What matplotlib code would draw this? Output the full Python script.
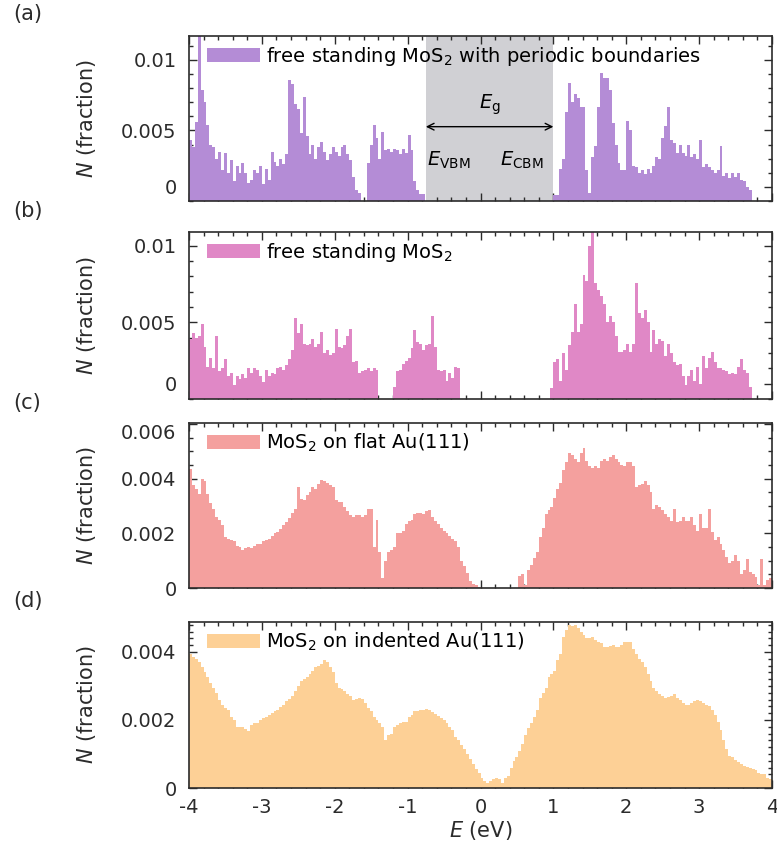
import numpy as np
import matplotlib
matplotlib.use("Agg")
import matplotlib.pyplot as plt
from matplotlib.patches import Patch
from matplotlib.ticker import MultipleLocator
from matplotlib.transforms import ScaledTranslation

plt.rcParams["font.family"] = "DejaVu Sans"
plt.rcParams["mathtext.fontset"] = "dejavusans"

W, H = 777, 848
INK = "#2b2b2b"

# histogram bins: 0.04 eV wide, -4 to 4 eV
E_EDGES = np.linspace(-4.0, 4.0, 201)

# fraction of states per bin, in units of 1e-3
N_PERIODIC = [
    4.3, 3.8, 5.6, 12.5, 7.9, 7.0, 5.4, 4.0, 3.8, 3.0,
    3.5, 2.2, 3.4, 2.0, 2.9, 1.4, 2.5, 2.0, 2.7, 2.0,
    1.3, 1.5, 2.2, 2.0, 2.5, 1.2, 2.3, 1.5, 3.5, 2.8,
    2.5, 3.0, 2.6, 3.3, 8.6, 8.3, 6.9, 6.5, 4.8, 7.4,
    4.6, 3.3, 4.0, 3.0, 3.8, 4.2, 3.5, 2.9, 3.3, 3.8,
    3.5, 3.2, 3.8, 4.0, 3.3, 2.9, 1.7, 0.8, 0.6, 0.0,
    0.0, 2.7, 4.0, 5.4, 4.5, 3.0, 4.9, 3.6, 3.7, 3.5,
    3.7, 3.6, 3.3, 3.7, 3.4, 4.7, 3.6, 1.4, 0.8, 0.5,
    0.5, 0, 0, 0, 0, 0, 0, 0, 0, 0,
    0, 0, 0, 0, 0, 0, 0, 0, 0, 0,
    0, 0, 0, 0, 0, 0, 0, 0, 0, 0,
    0, 0, 0, 0, 0, 0, 0, 0, 0, 0,
    0, 0, 0, 0, 0, 0.4, 0.4, 2.3, 3.0, 6.3,
    8.4, 7.0, 7.6, 7.3, 6.7, 6.7, 2.2, 0.6, 3.1, 3.9,
    6.7, 9.1, 8.7, 8.7, 7.9, 5.5, 4.0, 2.7, 2.2, 2.2,
    5.7, 5.0, 2.5, 2.4, 2.0, 2.2, 1.9, 2.3, 2.0, 2.5,
    3.1, 3.0, 4.5, 5.3, 6.7, 4.3, 4.1, 3.4, 4.0, 3.4,
    3.2, 4.0, 3.1, 3.3, 3.0, 4.3, 2.4, 2.6, 2.4, 2.2,
    2.0, 2.2, 3.9, 1.8, 2.0, 1.6, 2.0, 1.7, 2.0, 1.5,
    1.4, 1.0, 0.8, 0, 0, 0, 0, 0, 0, 0,
]
N_FREE = [
    3.9, 4.3, 4.0, 4.1, 4.9, 3.4, 2.1, 2.7, 2.0, 4.1,
    1.8, 2.0, 2.6, 1.5, 1.7, 0.9, 1.5, 1.3, 1.6, 1.4,
    2.0, 1.7, 2.0, 1.9, 1.5, 1.1, 1.9, 1.5, 1.7, 1.6,
    2.0, 2.1, 1.9, 2.2, 2.6, 3.2, 5.3, 4.3, 4.9, 3.6,
    3.5, 3.6, 3.9, 3.4, 3.6, 4.4, 3.0, 3.2, 2.9, 3.0,
    4.6, 3.4, 3.3, 3.5, 4.1, 4.6, 2.4, 2.5, 1.7, 1.8,
    1.9, 2.0, 1.8, 2.0, 1.9, 0, 0, 0, 0, 0,
    0.8, 1.8, 1.9, 2.3, 2.5, 2.7, 3.3, 4.5, 3.7, 3.6,
    3.2, 3.5, 3.6, 5.4, 3.4, 1.9, 1.8, 1.9, 1.2, 1.7,
    1.4, 2.1, 2.0, 0, 0, 0, 0, 0, 0, 0,
    0, 0, 0, 0, 0, 0, 0, 0, 0, 0,
    0, 0, 0, 0, 0, 0, 0, 0, 0, 0,
    0, 0, 0, 0, 0.7, 2.4, 2.6, 1.2, 3.0, 1.9,
    3.5, 4.4, 6.2, 4.4, 4.9, 8.1, 7.7, 10.0, 10.9, 7.6,
    7.1, 6.7, 6.2, 5.0, 5.4, 5.0, 4.1, 3.1, 3.1, 3.2,
    3.6, 3.1, 3.6, 7.6, 5.6, 5.3, 5.8, 5.0, 3.1, 4.5,
    3.6, 3.9, 3.8, 2.8, 3.6, 3.0, 2.4, 2.2, 2.3, 1.5,
    0.9, 1.5, 1.9, 1.2, 2.1, 1.0, 2.8, 2.0, 2.7, 3.1,
    2.4, 2.0, 2.0, 1.9, 1.8, 1.6, 1.7, 1.6, 2.1, 2.6,
    1.9, 1.7, 0.8, 0, 0, 0, 0, 0, 0, 0,
]
N_FLAT_AU = [
    4.35, 3.75, 3.6, 3.45, 4.0, 3.9, 3.45, 3.1, 2.9, 2.6,
    2.5, 2.3, 1.85, 1.8, 1.75, 1.7, 1.55, 1.5, 1.4, 1.45,
    1.5, 1.45, 1.55, 1.6, 1.6, 1.7, 1.75, 1.8, 1.9, 2.0,
    2.05, 2.15, 2.3, 2.4, 2.55, 2.75, 2.9, 3.7, 3.25, 3.2,
    3.4, 3.5, 3.7, 3.6, 3.8, 3.95, 3.9, 3.85, 3.75, 3.7,
    3.2, 3.15, 3.15, 2.95, 2.8, 2.65, 2.6, 2.65, 2.65, 2.6,
    2.65, 2.9, 2.9, 1.5, 2.5, 1.3, 0.35, 1.0, 1.3, 1.4,
    1.5, 2.0, 2.0, 2.1, 2.35, 2.45, 2.5, 2.7, 2.75, 2.75,
    2.7, 2.8, 2.85, 2.6, 2.45, 2.35, 2.2, 2.1, 2.0, 1.9,
    1.8, 1.7, 1.5, 1.0, 0.8, 0.55, 0.25, 0.15, 0.1, 0.05,
    0, 0, 0, 0, 0, 0, 0, 0, 0, 0,
    0, 0, 0, 0.45, 0.5, 0.1, 0.65, 0.85, 1.1, 1.3,
    1.85, 2.2, 2.7, 2.85, 2.95, 3.3, 3.6, 3.85, 4.3, 4.6,
    4.95, 4.85, 4.7, 4.6, 4.95, 5.1, 4.65, 4.45, 4.4, 4.45,
    4.4, 4.65, 4.7, 4.65, 4.8, 4.85, 4.7, 4.6, 4.5, 4.45,
    4.6, 4.6, 4.45, 3.7, 3.75, 3.8, 3.9, 3.75, 3.5, 2.9,
    3.05, 2.95, 2.85, 2.7, 2.6, 2.45, 2.9, 2.4, 2.45, 2.6,
    2.45, 2.45, 2.6, 2.3, 2.1, 2.7, 2.2, 2.2, 2.9, 2.05,
    1.75, 1.85, 1.6, 1.4, 1.15, 0.9, 1.0, 1.2, 1.0, 0.5,
    0.65, 1.05, 0.6, 0.5, 0.4, 0.1, 1.05, 0.1, 0.3, 0.35,
]
N_INDENTED_AU = [
    3.95, 3.85, 3.8, 3.7, 3.55, 3.4, 3.25, 3.1, 2.95, 2.8,
    2.6, 2.45, 2.35, 2.3, 2.1, 2.0, 1.8, 1.78, 1.78, 1.72,
    1.68, 1.85, 1.9, 1.92, 2.0, 2.05, 2.1, 2.15, 2.2, 2.25,
    2.3, 2.38, 2.45, 2.55, 2.62, 2.7, 2.85, 3.0, 3.15, 3.2,
    3.25, 3.35, 3.45, 3.55, 3.6, 3.65, 3.75, 3.7, 3.55, 3.4,
    3.1, 2.95, 2.9, 2.85, 2.75, 2.7, 2.6, 2.62, 2.65, 2.62,
    2.5, 2.35, 2.25, 2.1, 2.0, 1.9, 1.8, 1.4, 1.55, 1.6,
    1.8, 1.85, 1.9, 1.95, 1.95, 2.1, 2.15, 2.25, 2.25, 2.3,
    2.3, 2.33, 2.3, 2.22, 2.18, 2.12, 2.05, 2.0, 1.92, 1.8,
    1.7, 1.5, 1.4, 1.25, 1.15, 1.0, 0.85, 0.7, 0.55, 0.45,
    0.3, 0.2, 0.15, 0.2, 0.25, 0.3, 0.25, 0.15, 0.3, 0.35,
    0.6, 0.8, 0.9, 1.1, 1.3, 1.55, 1.75, 1.9, 2.1, 2.3,
    2.65, 2.8, 2.95, 3.25, 3.35, 3.45, 3.75, 3.95, 4.45, 4.65,
    4.8, 4.75, 4.78, 4.7, 4.6, 4.5, 4.4, 4.4, 4.45, 4.35,
    4.3, 4.25, 4.15, 4.15, 4.18, 4.2, 4.15, 4.15, 4.2, 4.3,
    4.3, 4.28, 4.1, 3.95, 3.8, 3.7, 3.55, 3.35, 3.15, 2.95,
    2.85, 2.75, 2.7, 2.65, 2.68, 2.7, 2.75, 2.65, 2.6, 2.5,
    2.45, 2.45, 2.5, 2.55, 2.6, 2.55, 2.5, 2.45, 2.4, 2.3,
    2.15, 1.95, 1.7, 1.4, 1.15, 0.95, 0.9, 0.82, 0.75, 0.72,
    0.65, 0.62, 0.6, 0.55, 0.52, 0.45, 0.42, 0.4, 0.3, 0.25,
]

LABELS = ["free standing MoS$_2$ with periodic boundaries",
          "free standing MoS$_2$",
          "MoS$_2$ on flat Au(111)",
          "MoS$_2$ on indented Au(111)"]
COLOURS = ["#b48cd6", "#e088c6", "#f4a09e", "#fdd096"]
LETTERS = ["(a)", "(b)", "(c)", "(d)"]

E_VBM, E_CBM = -0.75, 1.0


def px(x0, top, x1, bottom):
    """Axes rectangle from pixel edges of the 777x848 canvas."""
    return [x0/W, 1 - bottom/H, (x1 - x0)/W, (bottom - top)/H]


panels = [
    dict(data=N_PERIODIC, box=(36, 201), ylim=(0, 0.0117),
         ticks=[0.001, 0.005, 0.01], ticklabels=["0", "0.005", "0.01"],
         minor=0.001, letter_y=14),
    dict(data=N_FREE, box=(232, 399), ylim=(0, 0.0109),
         ticks=[0.001, 0.005, 0.01], ticklabels=["0", "0.005", "0.01"],
         minor=0.001, letter_y=211),
    dict(data=N_FLAT_AU, box=(423, 588), ylim=(0, 0.00603),
         ticks=[0, 0.002, 0.004, 0.006],
         ticklabels=["0", "0.002", "0.004", "0.006"],
         minor=0.0005, letter_y=403),
    dict(data=N_INDENTED_AU, box=(622, 788), ylim=(0, 0.00488),
         ticks=[0, 0.002, 0.004], ticklabels=["0", "0.002", "0.004"],
         minor=0.0002, letter_y=601),
]

fig = plt.figure(figsize=(W/100, H/100), dpi=100)

for k, p in enumerate(panels):
    top, bottom = p["box"]
    ax = fig.add_axes(px(189, top, 772, bottom))
    values = np.asarray(p["data"]) * 1e-3
    ax.bar(E_EDGES[:-1], values, width=np.diff(E_EDGES), align="edge",
           color=COLOURS[k], linewidth=0, zorder=2)

    ax.set_xlim(-4, 4)
    ax.set_ylim(*p["ylim"])
    ax.xaxis.set_major_locator(MultipleLocator(1))
    ax.xaxis.set_minor_locator(MultipleLocator(0.2))
    ax.set_yticks(p["ticks"], p["ticklabels"])
    ax.yaxis.set_minor_locator(MultipleLocator(p["minor"]))
    ax.tick_params(which="both", direction="in", top=True, right=True,
                   color=INK, width=1.0, labelcolor=INK, labelsize=14)
    ax.tick_params(which="major", length=5.5, pad=9)
    ax.tick_params(which="minor", length=3)
    for spine in ax.spines.values():
        spine.set_linewidth(1.2)
        spine.set_color(INK)
    if k < 3:
        ax.tick_params(axis="x", labelbottom=False)
    else:
        ax.set_xticks(range(-4, 5), [str(v) for v in range(-4, 5)])
        ax.tick_params(axis="x", pad=7)
        ax.set_xlabel("$E$ (eV)", fontsize=15, color=INK, labelpad=2)
    if k == 2:
        # the top label sits a little below the frame edge
        top_label = ax.get_yticklabels()[-1]
        top_label.set_transform(top_label.get_transform()
                                + ScaledTranslation(0, -0.08,
                                                    fig.dpi_scale_trans))

    ax.legend(handles=[Patch(facecolor=COLOURS[k], edgecolor="none")],
              labels=[LABELS[k]], loc="upper left",
              bbox_to_anchor=(18/583, 1 - 9/165), borderaxespad=0,
              borderpad=0, frameon=False, fontsize=14, handlelength=2.75,
              handleheight=0.75, handletextpad=0.3)

    fig.text(13/W, 1 - p["letter_y"]/H, LETTERS[k], fontsize=15,
             color=INK, ha="left", va="center")
    fig.text(86/W, 1 - (top + bottom)/2/H, "$N$ (fraction)", fontsize=15,
             color=INK, rotation=90, ha="center", va="center")

    if k == 0:
        # band gap of the periodic slab
        ax.axvspan(E_VBM, E_CBM, color="#d0d0d4", linewidth=0, zorder=1)
        ax.annotate("", xy=(E_VBM, 0.00527), xytext=(E_CBM, 0.00527),
                    arrowprops=dict(arrowstyle="<->", lw=1.0, color="k",
                                    shrinkA=0, shrinkB=0,
                                    mutation_scale=12), zorder=4)
        ax.text((E_VBM + E_CBM)/2, 0.0068, "$E_\\mathrm{g}$", fontsize=14,
                ha="center", va="center", zorder=4)
        ax.text(E_VBM + 0.02, 0.0029, "$E_\\mathrm{VBM}$", fontsize=14,
                ha="left", va="center", zorder=4)
        ax.text(0.27, 0.0029, "$E_\\mathrm{CBM}$", fontsize=14,
                ha="left", va="center", zorder=4)

fig.savefig("out.png", dpi=100)
